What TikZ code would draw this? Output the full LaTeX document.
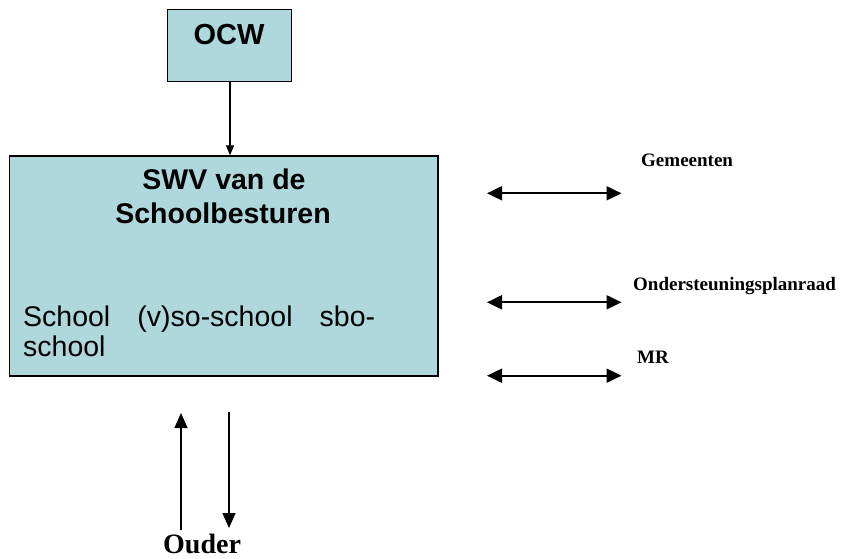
\documentclass[tikz,border=0pt]{standalone}
\usepackage{fontspec}
\setmainfont{Liberation Sans}
\newfontfamily\tnr{Liberation Serif}
\usetikzlibrary{arrows.meta}
\definecolor{boxfill}{RGB}{174,216,220}
\tikzset{
  box/.style={draw=black, line width=1.3pt, fill=boxfill, inner sep=0pt},
  conn/.style={line width=1.5pt, -{Triangle[length=15pt,width=13pt]}},
  dbl/.style={line width=2pt, {Triangle[length=15pt,width=14pt]}-{Triangle[length=15pt,width=14pt]}},
  smallconn/.style={line width=1.3pt, -{Triangle[length=10pt,width=8pt]}},
  lbl/.style={inner sep=0pt, font=\tnr\bfseries\fontsize{19}{22}\selectfont},
  titletxt/.style={inner sep=0pt, font=\bfseries\fontsize{28.5}{34}\selectfont}
}
\begin{document}
\begin{tikzpicture}[x=1pt,y=-1pt]
\useasboundingbox (0,0) rectangle (855,559);
% boxes
\node[box, minimum width=124.5pt, minimum height=72.5pt] (ocw) at (229.5,45.5) {};
\node[inner sep=0pt, anchor=base, font=\bfseries\fontsize{29}{32}\selectfont] (ocwt) at (229,45) {OCW};
\node[box, minimum width=428.5pt, minimum height=220pt] (swv) at (223.75,266) {};
\node[titletxt, anchor=base] (swv1) at (224,190) {SWV van de};
\node[titletxt, anchor=base] (swv2) at (223,223.5) {Schoolbesturen};
\node[inner sep=0pt, anchor=north west, text width=352pt, align=left,
      font=\fontsize{28.5}{30}\selectfont] (schools) at (23,306)
      {School\hfill (v)so-school\hfill sbo-\\school};
% OCW -> SWV
\draw[smallconn] (ocw.south -| 230,0) -- (230,0 |- swv.north);
% right side labels
\node[lbl, anchor=base west] (gem) at (641,166.7) {Gemeenten};
\node[lbl, anchor=base west] (osp) at (633,290.7) {Ondersteuningsplanraad};
\node[lbl, anchor=base west] (mr) at (637,363) {MR};
% double arrows
\coordinate (gL) at (487,193.3);
\coordinate (gR) at (621.5,193.3);
\coordinate (oL) at (487,302.3);
\coordinate (oR) at (621.5,302.3);
\coordinate (mL) at (487,375.7);
\coordinate (mR) at (621.5,375.7);
\draw[dbl] (gL) -- (gR);
\draw[dbl] (oL) -- (oR);
\draw[dbl] (mL) -- (mR);
% Ouder
\node[inner sep=0pt, anchor=base west, font=\tnr\bfseries\fontsize{28}{32}\selectfont] (ouder) at (163,553) {Ouder};
\coordinate (upS) at (181,530);
\coordinate (upE) at (181,413);
\coordinate (dnS) at (229,412);
\coordinate (dnE) at (229,528);
\draw[conn] (upS) -- (upE);
\draw[conn] (dnS) -- (dnE);
\end{tikzpicture}
\end{document}
